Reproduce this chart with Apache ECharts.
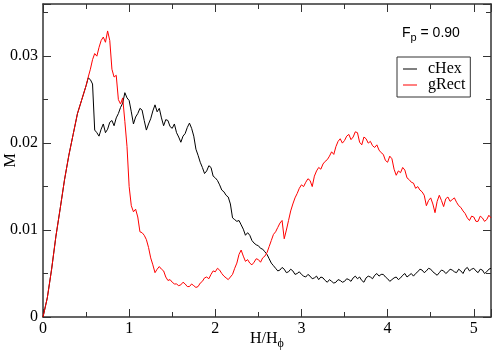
<!DOCTYPE html>
<html>
<head>
<meta charset="utf-8">
<script src="https://cdn.jsdelivr.net/npm/echarts@6/dist/echarts.min.js"></script>
<style>
  html, body { margin: 0; padding: 0; background: #fff; }
  #chart { width: 495px; height: 352px; }
</style>
</head>
<body>
<div id="chart"></div>
<script>
// H/H_phi values
var field = [
  0, 0.05, 0.1, 0.15, 0.2, 0.25, 0.3, 0.35, 0.4, 0.45,
  0.5, 0.525, 0.55, 0.575, 0.6, 0.625, 0.65, 0.675,
  0.7, 0.725, 0.75, 0.775, 0.8, 0.825, 0.85, 0.875,
  0.9, 0.925, 0.95, 0.975, 1, 1.025, 1.05, 1.075,
  1.1, 1.125, 1.15, 1.175, 1.2, 1.225, 1.25, 1.275,
  1.3, 1.325, 1.35, 1.375, 1.4, 1.425, 1.45, 1.475,
  1.5, 1.525, 1.55, 1.575, 1.6, 1.625, 1.65, 1.675,
  1.7, 1.725, 1.75, 1.775, 1.8, 1.825, 1.85, 1.875,
  1.9, 1.925, 1.95, 1.975, 2, 2.025, 2.05, 2.075,
  2.1, 2.125, 2.15, 2.175, 2.2, 2.225, 2.25, 2.275,
  2.3, 2.325, 2.35, 2.375, 2.4, 2.425, 2.45, 2.475,
  2.5, 2.525, 2.55, 2.575, 2.6, 2.625, 2.65, 2.675,
  2.7, 2.725, 2.75, 2.775, 2.8, 2.825, 2.85, 2.875,
  2.9, 2.925, 2.95, 2.975, 3, 3.025, 3.05, 3.075,
  3.1, 3.125, 3.15, 3.175, 3.2, 3.225, 3.25, 3.275,
  3.3, 3.325, 3.35, 3.375, 3.4, 3.425, 3.45, 3.475,
  3.5, 3.525, 3.55, 3.575, 3.6, 3.625, 3.65, 3.675,
  3.7, 3.725, 3.75, 3.775, 3.8, 3.825, 3.85, 3.875,
  3.9, 3.925, 3.95, 3.975, 4, 4.025, 4.05, 4.075,
  4.1, 4.125, 4.15, 4.175, 4.2, 4.225, 4.25, 4.275,
  4.3, 4.325, 4.35, 4.375, 4.4, 4.425, 4.45, 4.475,
  4.5, 4.525, 4.55, 4.575, 4.6, 4.625, 4.65, 4.675,
  4.7, 4.725, 4.75, 4.775, 4.8, 4.825, 4.85, 4.875,
  4.9, 4.925, 4.95, 4.975, 5, 5.025, 5.05, 5.075,
  5.1, 5.125, 5.15, 5.175, 5.2
];

// magnetization, cHex lattice
var cHex = [
  0, 0.0022, 0.0055, 0.0093, 0.0125, 0.0158, 0.0186, 0.0210, 0.0234, 0.0250,
  0.0266, 0.0275, 0.0273, 0.0268, 0.0215, 0.0212, 0.0208, 0.0216,
  0.0222, 0.0212, 0.0216, 0.0224, 0.0226, 0.0220, 0.0229, 0.0234,
  0.0241, 0.0246, 0.0258, 0.0252, 0.0249, 0.0236, 0.0222, 0.0230,
  0.0234, 0.0240, 0.0238, 0.0226, 0.0215, 0.0222, 0.0228, 0.0237,
  0.0244, 0.0236, 0.0240, 0.0229, 0.0220, 0.0227, 0.0226, 0.0219,
  0.0217, 0.0222, 0.0212, 0.0207, 0.0201, 0.0208, 0.0211, 0.0218,
  0.0223, 0.0217, 0.0208, 0.0193, 0.0186, 0.0178, 0.0172, 0.0165,
  0.0168, 0.0174, 0.0172, 0.0162, 0.0160, 0.0157, 0.0152, 0.0146,
  0.0144, 0.0140, 0.0138, 0.0130, 0.0114, 0.0112, 0.0110, 0.0111,
  0.0106, 0.0101, 0.0094, 0.0097, 0.0094, 0.0088, 0.0085, 0.0083,
  0.0082, 0.0079, 0.0078, 0.0075, 0.0072, 0.0067, 0.0062, 0.0059,
  0.0056, 0.0053, 0.0054, 0.0057, 0.0055, 0.0051, 0.0052, 0.0055,
  0.0053, 0.0049, 0.0050, 0.0052, 0.0049, 0.0047, 0.0046, 0.0049,
  0.0047, 0.0044, 0.0045, 0.0047, 0.0043, 0.0046, 0.0045, 0.0042,
  0.0040, 0.0043, 0.0041, 0.0039, 0.0040, 0.0043, 0.0042, 0.0040,
  0.0041, 0.0044, 0.0043, 0.0041, 0.0045, 0.0047, 0.0044, 0.0046,
  0.0042, 0.0040, 0.0045, 0.0047, 0.0046, 0.0044, 0.0048, 0.0050,
  0.0047, 0.0049, 0.0049, 0.0046, 0.0044, 0.0041, 0.0043, 0.0045,
  0.0046, 0.0043, 0.0045, 0.0048, 0.0050, 0.0046, 0.0048, 0.0050,
  0.0047, 0.0050, 0.0052, 0.0055, 0.0054, 0.0051, 0.0053, 0.0056,
  0.0055, 0.0052, 0.0050, 0.0048, 0.0051, 0.0054, 0.0053, 0.0050,
  0.0052, 0.0055, 0.0054, 0.0052, 0.0051, 0.0055, 0.0053, 0.0050,
  0.0055, 0.0057, 0.0053, 0.0055, 0.0056, 0.0053, 0.0051, 0.0055,
  0.0054, 0.0050, 0.0052, 0.0055, 0.0056
];

// magnetization, gRect lattice
var gRect = [
  0, 0.0022, 0.0055, 0.0093, 0.0125, 0.0158, 0.0186, 0.0210, 0.0234, 0.0250,
  0.0266, 0.0276, 0.0285, 0.0296, 0.0303, 0.0300, 0.0310, 0.0318,
  0.0322, 0.0316, 0.0329, 0.0318, 0.0285, 0.0276, 0.0278, 0.0250,
  0.0245, 0.0252, 0.0225, 0.0196, 0.0150, 0.0128, 0.0121, 0.0124,
  0.0115, 0.0098, 0.0097, 0.0094, 0.0089, 0.0080, 0.0068, 0.0060,
  0.0051, 0.0055, 0.0058, 0.0055, 0.0053, 0.0046, 0.0042, 0.0043,
  0.0040, 0.0038, 0.0038, 0.0036, 0.0037, 0.0040, 0.0038, 0.0035,
  0.0035, 0.0038, 0.0036, 0.0034, 0.0035, 0.0039, 0.0041, 0.0045,
  0.0046, 0.0044, 0.0049, 0.0053, 0.0052, 0.0056, 0.0054, 0.0050,
  0.0047, 0.0045, 0.0043, 0.0046, 0.0049, 0.0056, 0.0062, 0.0072,
  0.0077, 0.0070, 0.0064, 0.0066, 0.0062, 0.0060, 0.0063, 0.0067,
  0.0066, 0.0063, 0.0068, 0.0070, 0.0074, 0.0081, 0.0088, 0.0095,
  0.0098, 0.0103, 0.0108, 0.0111, 0.0090, 0.0100, 0.0111, 0.0122,
  0.0130, 0.0137, 0.0142, 0.0148, 0.0152, 0.0150, 0.0155, 0.0159,
  0.0157, 0.0150, 0.0162, 0.0168, 0.0172, 0.0170, 0.0176, 0.0179,
  0.0181, 0.0185, 0.0190, 0.0187, 0.0196, 0.0202, 0.0205, 0.0200,
  0.0203, 0.0208, 0.0210, 0.0204, 0.0207, 0.0213, 0.0212, 0.0201,
  0.0198, 0.0207, 0.0205, 0.0200, 0.0202, 0.0197, 0.0195, 0.0198,
  0.0192, 0.0189, 0.0187, 0.0180, 0.0178, 0.0185, 0.0182, 0.0170,
  0.0163, 0.0168, 0.0166, 0.0172, 0.0169, 0.0160, 0.0158, 0.0155,
  0.0154, 0.0148, 0.0150, 0.0146, 0.0144, 0.0140, 0.0128, 0.0134,
  0.0137, 0.0130, 0.0120, 0.0133, 0.0140, 0.0134, 0.0127, 0.0136,
  0.0138, 0.0133, 0.0135, 0.0137, 0.0132, 0.0128, 0.0126, 0.0122,
  0.0119, 0.0114, 0.0111, 0.0116, 0.0115, 0.0110, 0.0110, 0.0116,
  0.0114, 0.0110, 0.0112, 0.0117, 0.0114
];

var xTicks = [0, 1, 2, 3, 4, 5];
var yTicks = [0, 0.01, 0.02, 0.03];

function pairs(ys) {
  return field.map(function (x, i) { return [x, ys[i]]; });
}

var serif = 'Liberation Serif';
var frame = { show: true, onZero: false, lineStyle: { color: '#333', width: 1.5 } };

function xAxis(pos, labels) {
  return {
    type: 'value', position: pos, min: 0, max: 5.2, interval: 1,
    axisLine: frame,
    axisTick: { show: true, inside: true, length: 8, lineStyle: { color: '#333' } },
    minorTick: { show: true, splitNumber: 2, length: 5, lineStyle: { color: '#333' } },
    splitLine: { show: false },
    axisLabel: {
      show: labels, showMaxLabel: false, margin: 4,
      fontFamily: serif, fontSize: 16, color: '#000',
      formatter: function (v) { return xTicks.indexOf(v) >= 0 ? String(v) : ''; }
    }
  };
}

function yAxis(pos, labels) {
  return {
    type: 'value', position: pos, min: 0, max: 0.036, interval: 0.01,
    axisLine: frame,
    axisTick: { show: true, inside: true, length: 8, lineStyle: { color: '#333' } },
    minorTick: { show: true, splitNumber: 2, length: 5, lineStyle: { color: '#333' } },
    splitLine: { show: false },
    axisLabel: {
      show: labels, showMaxLabel: false, margin: 5,
      fontFamily: serif, fontSize: 16, color: '#000',
      formatter: function (v) {
        var hit = yTicks.filter(function (t) { return Math.abs(t - v) < 1e-9; });
        return hit.length ? String(hit[0]) : '';
      }
    }
  };
}

var bottomX = xAxis('bottom', true);
bottomX.name = '{a|H/H}{s|\u03d5}';
bottomX.nameLocation = 'middle';
bottomX.nameGap = 11;
bottomX.nameMoveOverlap = false;
bottomX.nameTextStyle = {
  rich: {
    a: { fontFamily: serif, fontSize: 16, color: '#000' },
    s: { fontFamily: serif, fontSize: 12, color: '#000', padding: [10, 0, 0, 0] }
  }
};

var leftY = yAxis('left', true);
leftY.name = 'M';
leftY.nameLocation = 'middle';
leftY.nameGap = 24;
leftY.nameMoveOverlap = false;
leftY.nameTextStyle = { fontFamily: serif, fontSize: 16, color: '#000' };

var topX = xAxis('top', false);
var rightY = yAxis('right', false);

var chart = echarts.init(document.getElementById('chart'));
chart.setOption({
  animation: false,
  backgroundColor: '#fff',
  grid: { left: 43, right: 4, top: 4, bottom: 35, containLabel: false, outerBoundsMode: 'none' },
  xAxis: [bottomX, topX],
  yAxis: [leftY, rightY],
  legend: {
    orient: 'vertical',
    left: 397, top: 57,
    borderColor: '#333', borderWidth: 1,
    padding: [4, 5, 4, 6],
    itemGap: 0,
    itemWidth: 14, itemHeight: 1,
    icon: 'rect',
    textStyle: { fontFamily: serif, fontSize: 16, color: '#000', lineHeight: 15, padding: [0, 0, 0, 6] },
    data: ['cHex', 'gRect']
  },
  graphic: [{
    type: 'text', left: 402, top: 26,
    style: {
      text: '{a|F}{b|p}{a| = 0.90}',
      rich: {
        a: { fontFamily: 'Liberation Sans', fontSize: 14, fill: '#000' },
        b: { fontFamily: 'Liberation Sans', fontSize: 11, fill: '#000', padding: [9, 0, 0, 0] }
      }
    }
  }],
  series: [
    {
      name: 'cHex', type: 'line', xAxisIndex: 0, yAxisIndex: 0,
      data: pairs(cHex), showSymbol: false,
      lineStyle: { color: '#000', width: 1 }, itemStyle: { color: '#000' }
    },
    {
      name: 'gRect', type: 'line', xAxisIndex: 0, yAxisIndex: 0,
      data: pairs(gRect), showSymbol: false,
      lineStyle: { color: '#ff0000', width: 1 }, itemStyle: { color: '#ff0000' }
    }
  ]
});
</script>
</body>
</html>
